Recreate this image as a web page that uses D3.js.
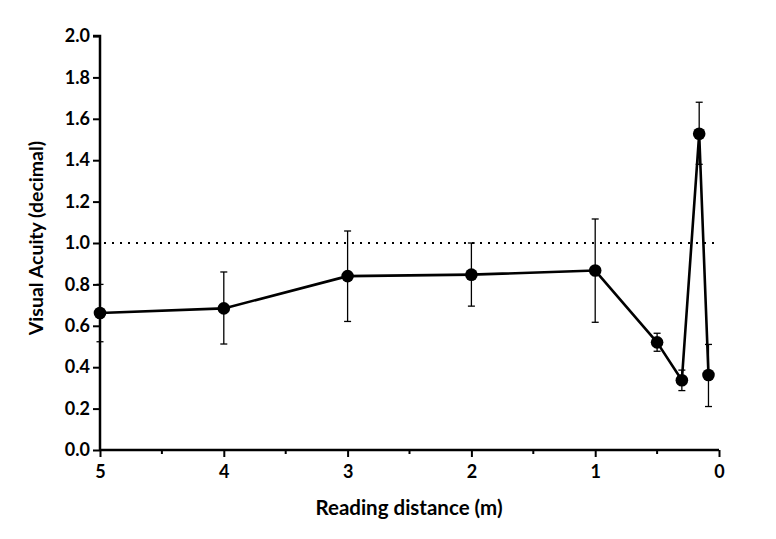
<!DOCTYPE html>
<html>
<head>
<meta charset="utf-8">
<script src="https://cdn.jsdelivr.net/npm/d3@7"></script>
<style>
  html, body { margin: 0; padding: 0; background: #fff; }
  svg { display: block; }
  text { font-family: Lato, "Open Sans", sans-serif; font-weight: bold; fill: #000; }
</style>
</head>
<body>
<svg id="chart" width="776" height="539"></svg>
<script>
// Data
const distances = [5, 4, 3, 2, 1, 0.5, 0.3, 0.16, 0.085];
const acuity    = [0.662, 0.684, 0.84, 0.847, 0.867, 0.52, 0.337, 1.528, 0.362];
const errLow    = [0.523, 0.512, 0.621, 0.695, 0.617, 0.477, 0.287, 1.38, 0.21];
const errHigh   = [0.80, 0.86, 1.058, 1.0, 1.116, 0.564, 0.386, 1.68, 0.51];
const xTicks = [5, 4, 3, 2, 1, 0];
const xMinorTicks = [4.5, 3.5, 2.5, 1.5, 0.5];
const yTicks = [0, 0.2, 0.4, 0.6, 0.8, 1.0, 1.2, 1.4, 1.6, 1.8, 2.0];
const referenceLine = 1.0;

const svg = d3.select("#chart");
const x = d3.scaleLinear().domain([5, 0]).range([100, 719]);
const y = d3.scaleLinear().domain([0, 2]).range([450, 36]);

// reference dotted line
svg.append("line")
  .attr("x1", x(5) + 4).attr("x2", x(0))
  .attr("y1", y(referenceLine)).attr("y2", y(referenceLine))
  .attr("stroke", "#000").attr("stroke-width", 2)
  .attr("stroke-dasharray", "2,6");

// Y axis
const yAxis = d3.axisLeft(y).tickValues(yTicks).tickFormat(d3.format(".1f")).tickSize(7).tickPadding(3);
const gy = svg.append("g").attr("transform", `translate(${x(5)},0)`).call(yAxis);
gy.select(".domain").attr("stroke-width", 2.5).attr("d", `M-7,${y(2)}H0V${y(0)}`);
gy.selectAll(".tick line").attr("stroke-width", 2);
gy.selectAll(".tick text").style("font-size", "18px");

// X axis
const xAxis = d3.axisBottom(x).tickValues(xTicks).tickFormat(d3.format("d")).tickSize(7).tickPadding(8);
const gx = svg.append("g").attr("transform", `translate(0,${y(0)})`).call(xAxis);
gx.select(".domain").attr("stroke-width", 2.5).attr("d", `M${x(5)},0H${x(0)}`);
gx.selectAll(".tick line").attr("stroke-width", 2);
gx.selectAll(".tick text").style("font-size", "18px");
gx.selectAll(".minor").data(xMinorTicks).enter().append("line")
  .attr("x1", d => x(d)).attr("x2", d => x(d))
  .attr("y1", 0).attr("y2", 4)
  .attr("stroke", "#000").attr("stroke-width", 2);

// Axis titles
svg.append("text")
  .attr("x", 409).attr("y", 515)
  .attr("text-anchor", "middle")
  .style("font-size", "20.5px")
  .text("Reading distance (m)");
svg.append("text")
  .attr("transform", "translate(43,238) rotate(-90)")
  .attr("text-anchor", "middle")
  .style("font-size", "19.5px")
  .text("Visual Acuity (decimal)");

const pts = distances.map((d, i) => ({ d, v: acuity[i], lo: errLow[i], hi: errHigh[i] }));

// Error bars
const eb = svg.append("g").attr("stroke", "#000").attr("stroke-width", 1.3);
pts.forEach(p => {
  eb.append("line").attr("x1", x(p.d)).attr("x2", x(p.d)).attr("y1", y(p.lo)).attr("y2", y(p.hi));
  [p.lo, p.hi].forEach(v => {
    eb.append("line").attr("x1", x(p.d) - 3.5).attr("x2", x(p.d) + 3.5).attr("y1", y(v)).attr("y2", y(v));
  });
});

// Line
svg.append("path").datum(pts)
  .attr("fill", "none").attr("stroke", "#000").attr("stroke-width", 2.6)
  .attr("stroke-linejoin", "round")
  .attr("d", d3.line().x(p => x(p.d)).y(p => y(p.v)));

// Markers
svg.selectAll("circle.pt").data(pts).enter().append("circle")
  .attr("class", "pt")
  .attr("cx", p => x(p.d)).attr("cy", p => y(p.v)).attr("r", 6.3)
  .attr("fill", "#000");
</script>
</body>
</html>
